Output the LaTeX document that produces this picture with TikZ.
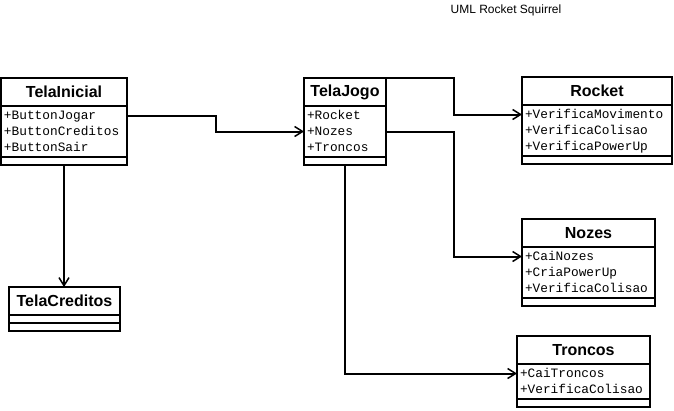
\documentclass[tikz,border=0pt]{standalone}
\usepackage{fontspec}
\setmainfont{Liberation Sans}
\setsansfont{Liberation Sans}
\newfontfamily\umlmono{Liberation Mono}
\usetikzlibrary{positioning,calc}
\usetikzlibrary{arrows.meta}

\begin{document}
\begin{tikzpicture}[x=1pt,y=-1pt,
  classhead/.style={draw,line width=2pt,minimum width=#1,minimum height=28pt,inner sep=0pt,outer sep=0pt,anchor=north west,font=\sffamily\bfseries\fontsize{16}{18}\selectfont},
  attr/.style={text width=#1,align=left,inner xsep=3pt,inner ysep=0pt,outer sep=0pt,text height=10.5pt,text depth=2pt,minimum height=16pt,font=\umlmono\fontsize{12.8}{14}\selectfont},
  opsbox/.style={draw,line width=2pt,minimum width=#1,minimum height=8pt,inner sep=0pt,outer sep=0pt},
  umlline/.style={line width=2pt},
  conn/.style={line width=2pt,-{Straight Barb[length=8pt,width=10pt,line width=1.5pt]}}]
\useasboundingbox (0,0) rectangle (674,410);
\node[font=\sffamily\fontsize{12}{14}\selectfont] (titulo) at (506,10) {UML Rocket Squirrel};
% TelaInicial
\node[classhead=126pt] (inicial) at (1,78) {TelaInicial};
\node[attr=120pt,below=1.5pt of inicial] (bjogar) {+ButtonJogar};
\node[attr=120pt,below=0pt of bjogar] (bcreditos) {+ButtonCreditos};
\node[attr=120pt,below=0pt of bcreditos] (bsair) {+ButtonSair};
\node[opsbox=126pt,below=1.5pt of bsair] (inicialops) {};
\draw[umlline] (inicial.south west) -- (inicialops.north west) (inicial.south east) -- (inicialops.north east);
% TelaCreditos
\node[classhead=111pt] (creditos) at (9,287) {TelaCreditos};
\node[opsbox=111pt,below=0pt of creditos] (creditosattr) {};
\node[opsbox=111pt,below=0pt of creditosattr] (creditosops) {};
% TelaJogo
\node[classhead=82pt] (jogo) at (304,78) {TelaJogo};
\node[attr=76pt,below=1.5pt of jogo] (jrocket) {+Rocket};
\node[attr=76pt,below=0pt of jrocket] (jnozes) {+Nozes};
\node[attr=76pt,below=0pt of jnozes] (jtroncos) {+Troncos};
\node[opsbox=82pt,below=1.5pt of jtroncos] (jogoops) {};
\draw[umlline] (jogo.south west) -- (jogoops.north west) (jogo.south east) -- (jogoops.north east);
% Rocket
\node[classhead=150pt] (rocket) at (522,77) {Rocket};
\node[attr=144pt,below=1.5pt of rocket] (vmov) {+VerificaMovimento};
\node[attr=144pt,below=0pt of vmov] (rcolisao) {+VerificaColisao};
\node[attr=144pt,below=0pt of rcolisao] (rpower) {+VerificaPowerUp};
\node[opsbox=150pt,below=1.5pt of rpower] (rocketops) {};
\draw[umlline] (rocket.south west) -- (rocketops.north west) (rocket.south east) -- (rocketops.north east);
% Nozes
\node[classhead=133pt] (nozes) at (522,219) {Nozes};
\node[attr=127pt,below=1.5pt of nozes] (cainozes) {+CaiNozes};
\node[attr=127pt,below=0pt of cainozes] (criapower) {+CriaPowerUp};
\node[attr=127pt,below=0pt of criapower] (ncolisao) {+VerificaColisao};
\node[opsbox=133pt,below=1.5pt of ncolisao] (nozesops) {};
\draw[umlline] (nozes.south west) -- (nozesops.north west) (nozes.south east) -- (nozesops.north east);
% Troncos
\node[classhead=133pt] (troncos) at (517,336) {Troncos};
\node[attr=127pt,below=1.5pt of troncos] (caitroncos) {+CaiTroncos};
\node[attr=127pt,below=0pt of caitroncos] (tcolisao) {+VerificaColisao};
\node[opsbox=133pt,below=1.5pt of tcolisao] (troncosops) {};
\draw[umlline] (troncos.south west) -- (troncosops.north west) (troncos.south east) -- (troncosops.north east);
% ligacoes
\draw[conn] (bjogar.east) -| ($(bjogar.east)!0.5!(jnozes.west)$) |- (jnozes.west);
\draw[conn] (inicialops.south) -- (inicialops.south |- creditos.north);
\draw[conn] (jogo.north east) -| ($(jogo.north east)!0.5!(vmov.west)$) |- (vmov.west);
\draw[conn] (jnozes.east) -| ($(jnozes.east)!0.5!(cainozes.west)$) |- (cainozes.west);
\draw[conn] (jogoops.south) |- (caitroncos.west);
\end{tikzpicture}
\end{document}
